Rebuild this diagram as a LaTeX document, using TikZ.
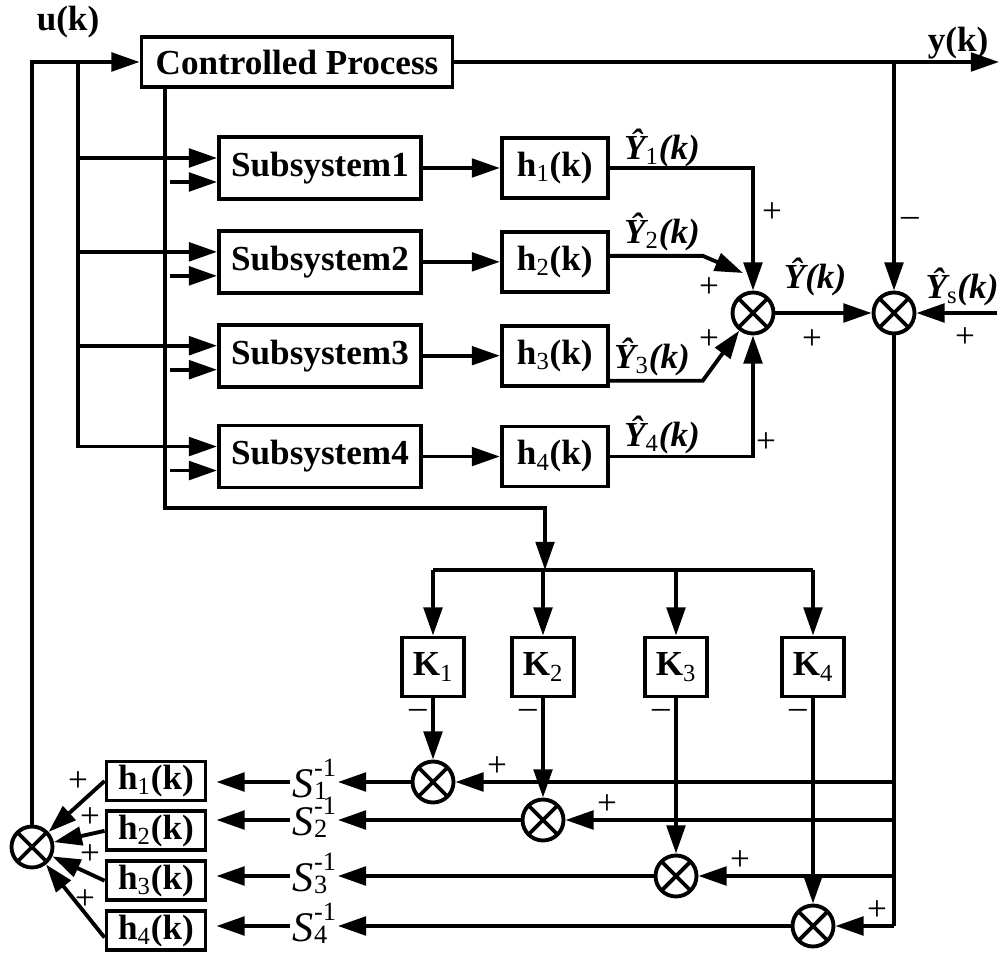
\documentclass[tikz,border=0pt]{standalone}
\usepackage{fontspec}
\setmainfont{Liberation Serif}
\usetikzlibrary{positioning, arrows.meta, calc}

\newcommand{\sinvtext}[1]{S\kern0.5pt{\fontsize{15}{11}\selectfont\upshape\raisebox{5pt}{\begin{tabular}[c]{@{}l@{}}-1\\#1\end{tabular}}}}

\begin{document}
\begin{tikzpicture}[
  x=0.02cm, y=-0.02cm, line width=2.2pt,
  node distance=0.56cm and 1.54cm,
  blk/.style={draw, font=\fontsize{20}{24}\selectfont\bfseries, inner sep=1pt, align=center},
  sbox/.style={blk, minimum width=4.04cm, minimum height=1.24cm},
  hbox/.style={blk, minimum width=2.12cm, minimum height=1.2cm},
  kbox/.style={blk, minimum width=1.24cm, minimum height=1.18cm},
  hsmall/.style={blk, minimum width=1.98cm, minimum height=0.78cm},
  sum/.style={circle, draw, minimum size=0.82cm, inner sep=0pt,
              path picture={\draw (path picture bounding box.north west) -- (path picture bounding box.south east)
                                  (path picture bounding box.north east) -- (path picture bounding box.south west);}},
  arrow/.style={-{Triangle[length=16pt, width=10.5pt]}},
  lbl/.style={font=\fontsize{20}{24}\selectfont\bfseries, inner sep=0pt},
  sig/.style={font=\fontsize{20}{24}\selectfont\bfseries\itshape, inner sep=0pt},
  inv/.style={font=\fontsize{24}{28}\selectfont\itshape, inner sep=0pt},
  pm/.style={font=\fontsize{20}{22}\selectfont, inner sep=0pt}
]
  \useasboundingbox (0,0) rectangle (1000,959);

  % plant and subsystems
  \node[blk, minimum width=6.22cm, minimum height=1.0cm] (plant) at (297,62) {Controlled Process};
  \node[sbox] (sub1) at (320,168) {Subsystem1};
  \node[sbox, below=of sub1] (sub2) {Subsystem2};
  \node[sbox, below=of sub2] (sub3) {Subsystem3};
  \node[sbox, below=0.7cm of sub3] (sub4) {Subsystem4};
  \foreach \i in {1,...,4}
    \node[hbox, right=of sub\i] (h\i) {h\textsubscript{\mdseries\i}(k)};

  \node[sum] (sumY) at (753,313) {};
  \node[sum] (sumE) at (894,313) {};

  % gains and lower sums
  \node[kbox] (k1) at (433,667) {K\textsubscript{\mdseries 1}};
  \node[kbox] (k2) at (543,667) {K\textsubscript{\mdseries 2}};
  \node[kbox] (k3) at (676,667) {K\textsubscript{\mdseries 3}};
  \node[kbox] (k4) at (813,667) {K\textsubscript{\mdseries 4}};
  \node[sum] (bs1) at (k1 |- 0,782) {};
  \node[sum] (bs2) at (k2 |- 0,820) {};
  \node[sum] (bs3) at (k3 |- 0,876) {};
  \node[sum] (bs4) at (k4 |- 0,926) {};
  \foreach \i in {1,...,4}
    \node[inv] (sinv\i) at (bs\i -| 314,0) {\sinvtext{\i}};

  \node[hsmall] (hb1) at (156,781) {h\textsubscript{\mdseries 1}(k)};
  \node[hsmall, below=0.14cm of hb1] (hb2) {h\textsubscript{\mdseries 2}(k)};
  \node[hsmall, below=0.14cm of hb2] (hb3) {h\textsubscript{\mdseries 3}(k)};
  \node[hsmall, below=0.14cm of hb3] (hb4) {h\textsubscript{\mdseries 4}(k)};
  \node[sum] (sL) at (32,847) {};

  % signal labels
  \node[lbl] (ulbl) at (68,22) {u(k)};
  \node[lbl] (ylbl) at (958,43) {y(k)};
  \node[sig] (yh1) at (662,148) {Ŷ\textsubscript{\upshape\mdseries 1}(k)};
  \node[sig] (yh2) at (662,232) {Ŷ\textsubscript{\upshape\mdseries 2}(k)};
  \node[sig] (yh3) at (652,357) {Ŷ\textsubscript{\upshape\mdseries 3}(k)};
  \node[sig] (yh4) at (662,435) {Ŷ\textsubscript{\upshape\mdseries 4}(k)};
  \node[sig] (yhat) at (815,277) {Ŷ(k)};
  \node[sig] (yhs) at (962,287) {Ŷ\textsubscript{\upshape\mdseries s}(k)};

  \coordinate (utap) at (plant.west -| 78,0);
  \coordinate (ptap) at (plant.south -| 165,0);
  \coordinate (pbend) at (165,508);
  \coordinate (split) at (545,570);
  \coordinate (yend) at (999,62);
  \coordinate (ytap) at (sumE |- plant);
  \coordinate (ysin) at (997,313);

  % top part
  \draw[arrow] (sL) |- (plant);
  \foreach \i in {1,...,4} {
    \draw[arrow] (utap) |- ([yshift=0.2cm]sub\i.west);
    \draw[arrow] ([shift={(-0.94cm,-0.28cm)}]sub\i.west) -- ([yshift=-0.28cm]sub\i.west);
    \draw[arrow] (sub\i) -- (h\i);
  }
  \draw[arrow] (h1) -| (sumY);
  \draw[arrow] (h4) -| (sumY);
  \draw[arrow] ([yshift=0.12cm]h2.east) -- ++(1.86cm,0) -- ([shift={(-0.2cm,0.8cm)}]sumY.center);
  \draw[arrow] ([yshift=-0.5cm]h3.east) -- ++(1.86cm,0) -- (sumY.232);
  \draw[arrow] (sumY) -- (sumE);
  \draw[arrow] (plant) -- (yend);
  \draw[arrow] (ytap) -- (sumE);
  \draw[arrow] (ysin) -- (sumE);

  % gain branch
  \draw[arrow] (ptap) -- (pbend) -| (split);
  \draw (k1 |- split) -- (k4 |- split);
  \foreach \i in {1,...,4} {
    \draw[arrow] (k\i |- split) -- (k\i);
    \draw[arrow] (k\i) -- (bs\i);
    \node[pm] at ([shift={(-0.3cm,-0.32cm)}]k\i.south) {–};
    \node[pm] at ([shift={(1.28cm,0.3cm)}]bs\i) {+};
  }

  % error rows
  \draw (sumE) -- (sumE |- bs4);
  \foreach \i in {1,...,4} {
    \draw[arrow] (sumE |- bs\i) -- (bs\i);
    \draw[arrow] (bs\i) -- (sinv\i);
    \draw[arrow, shorten >=0.18cm] (sinv\i) -- (sinv\i -| hb\i.east);
  }
  \foreach \i in {1,2,3}
    \draw[arrow] (hb\i.west) -- (sL);
  \draw[arrow] ([yshift=-0.14cm]hb4.west) -- (sL);

  % signs
  \node[pm] at (772,213) {+};
  \node[pm] at (709,288) {+};
  \node[pm] at (709,340) {+};
  \node[pm] at (766,443) {+};
  \node[pm] at (812,340) {+};
  \node[pm] at (965,338) {+};
  \node[pm] at (910,222) {–};
  \node[pm] at (78,782) {+};
  \node[pm] at (90,818) {+};
  \node[pm] at (90,855) {+};
  \node[pm] at (85,900) {+};
\end{tikzpicture}
\end{document}
